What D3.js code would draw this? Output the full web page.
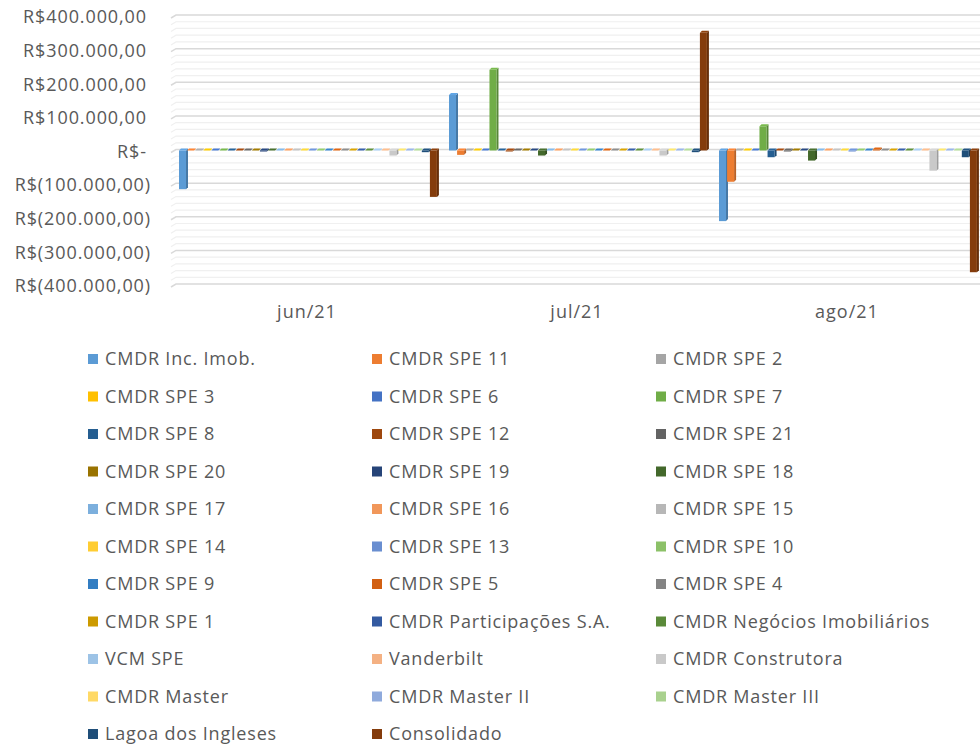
<!DOCTYPE html>
<html>
<head>
<meta charset="utf-8">
<script src="https://cdn.jsdelivr.net/npm/d3@7"></script>
<style>
  body { margin: 0; background: #fff; }
  text { font-family: "Open Sans", "Noto Sans", sans-serif; fill: #595959; }
</style>
</head>
<body>
<div id="chart"></div>
<script>
// months on the x axis
const categories = ['jun/21', 'jul/21', 'ago/21'];

// series names, in legend order
const seriesNames = [
    'CMDR Inc. Imob.', 'CMDR SPE 11', 'CMDR SPE 2',
    'CMDR SPE 3', 'CMDR SPE 6', 'CMDR SPE 7',
    'CMDR SPE 8', 'CMDR SPE 12', 'CMDR SPE 21',
    'CMDR SPE 20', 'CMDR SPE 19', 'CMDR SPE 18',
    'CMDR SPE 17', 'CMDR SPE 16', 'CMDR SPE 15',
    'CMDR SPE 14', 'CMDR SPE 13', 'CMDR SPE 10',
    'CMDR SPE 9', 'CMDR SPE 5', 'CMDR SPE 4',
    'CMDR SPE 1', 'CMDR Participações S.A.', 'CMDR Negócios Imobiliários',
    'VCM SPE', 'Vanderbilt', 'CMDR Construtora',
    'CMDR Master', 'CMDR Master II', 'CMDR Master III',
    'Lagoa dos Ingleses', 'Consolidado'
];

// excel default palette, one per series
const seriesColors = [
    '#5B9BD5', '#ED7D31', '#A5A5A5', '#FFC000', '#4472C4', '#70AD47',
    '#255E91', '#9E480E', '#636363', '#997300', '#264478', '#43682B',
    '#7CAFDD', '#F1975A', '#B7B7B7', '#FFCD33', '#698ED0', '#8CC168',
    '#327DC2', '#D26012', '#848484', '#CC9A00', '#335AA1', '#5A8A39',
    '#9DC3E6', '#F4B183', '#C9C9C9', '#FFD966', '#8FAADC', '#A9D18E',
    '#1F4E79', '#843C0C'
];

// values per series: [jun, jul, ago]
const valuesInc    = [-115000, 165000, -210000];
const valuesSpe11  = [0, -13000, -93000];
const valuesSpe7   = [0, 240000, 72000];
const valuesSpe8   = [0, 0, -20000];
const valuesSpe12  = [0, -3000, 0];
const valuesSpe21  = [0, 0, -3000];
const valuesSpe19  = [-3000, 0, 0];
const valuesSpe18  = [0, -15000, -30000];
const valuesSpe13  = [0, 0, -3000];
const valuesSpe5   = [0, 0, 3000];
const valuesConstr = [-15000, -15000, -60000];
const valuesLagoa  = [-5000, -5000, -20000];
const valuesConsol = [-138000, 350000, -362000];
const zeros = [0, 0, 0];

const seriesValues = {
    'CMDR Inc. Imob.': valuesInc,
    'CMDR SPE 11': valuesSpe11,
    'CMDR SPE 7': valuesSpe7,
    'CMDR SPE 8': valuesSpe8,
    'CMDR SPE 12': valuesSpe12,
    'CMDR SPE 21': valuesSpe21,
    'CMDR SPE 19': valuesSpe19,
    'CMDR SPE 18': valuesSpe18,
    'CMDR SPE 13': valuesSpe13,
    'CMDR SPE 5': valuesSpe5,
    'CMDR Construtora': valuesConstr,
    'Lagoa dos Ingleses': valuesLagoa,
    'Consolidado': valuesConsol
};

const yTicks = [-400000, -300000, -200000, -100000, 0, 100000, 200000, 300000, 400000];

const width = 980, height = 744;

const svg = d3.select('#chart').append('svg')
    .attr('width', width)
    .attr('height', height);

svg.append('rect').attr('width', width).attr('height', height).attr('fill', '#fff');

const y = d3.scaleLinear().domain([-400000, 400000]).range([285, 16]);
const x0 = d3.scaleBand().domain(categories).range([172, 982]);
const x1 = d3.scaleBand().domain(seriesNames).range([7, 266]);

// pt-BR currency
const br = d3.formatLocale({ decimal: ',', thousands: '.', grouping: [3], currency: ['R$', ''] });
const num = br.format(',.2f');
const money = v => v === 0 ? 'R$-' : v < 0 ? 'R$(' + num(-v) + ')' : 'R$' + num(v);

// back wall gridlines (minor every 20k, major every 100k) with a little 3d slant on the left
const grid = svg.append('g');
y.ticks(40).forEach(t => {
    const major = yTicks.includes(t);
    const yy = y(t) - 1;
    grid.append('path')
        .attr('d', `M171,${yy + 3}L176,${yy}L980,${yy}`)
        .attr('fill', 'none')
        .attr('stroke', major ? '#d9d9d9' : '#f0f0f0')
        .attr('stroke-width', major ? 1.5 : 1.2);
});

// y labels
svg.append('g').selectAll('text')
    .data(yTicks)
    .enter().append('text')
    .attr('x', d => d < 0 ? 151 : 147)
    .attr('y', d => y(d) + 1)
    .attr('dy', '0.35em')
    .attr('text-anchor', 'end')
    .style('font-size', '18px')
    .style('letter-spacing', '0.9px')
    .text(money);

// x labels
svg.append('g').selectAll('text')
    .data(categories)
    .enter().append('text')
    .attr('x', d => x0(d) + x0.bandwidth() / 2)
    .attr('y', 312)
    .attr('dy', '0.35em')
    .attr('text-anchor', 'middle')
    .style('font-size', '18px')
    .style('letter-spacing', '1px')
    .text(d => d);

// bars, drawn as simple 3d columns
const bars = [];
categories.forEach((c, ci) => {
    seriesNames.forEach((s, si) => {
        const vals = seriesValues[s] || zeros;
        bars.push({ cat: c, name: s, value: vals[ci], color: seriesColors[si] });
    });
});

const barW = 7, depth = 2;
const barG = svg.append('g');
bars.forEach(b => {
    const x = x0(b.cat) + x1(b.name);
    const y0 = y(0);
    const yv = y(b.value);
    const top = Math.min(y0, yv), bottom = Math.max(y0, yv);
    const c = d3.color(b.color);
    const g = barG.append('g');
    if (bottom - top > 0.5) {
        // side face
        g.append('path')
            .attr('d', `M${x + barW},${top}L${x + barW + depth},${top - depth}L${x + barW + depth},${bottom - depth}L${x + barW},${bottom}Z`)
            .attr('fill', c.darker(0.7));
        // front face
        g.append('rect')
            .attr('x', x).attr('y', top)
            .attr('width', barW).attr('height', bottom - top)
            .attr('fill', b.color);
    }
    // top face
    g.append('path')
        .attr('d', `M${x},${top}L${x + depth},${top - depth}L${x + barW + depth},${top - depth}L${x + barW},${top}Z`)
        .attr('fill', c.brighter(0.2));
});

// legend, 3 columns
const legend = svg.append('g').selectAll('g')
    .data(seriesNames)
    .enter().append('g')
    .attr('transform', (d, i) => `translate(${88 + (i % 3) * 284},${359 + Math.floor(i / 3) * 37.5})`);

legend.append('rect')
    .attr('x', 0).attr('y', -5)
    .attr('width', 10).attr('height', 10)
    .attr('fill', (d, i) => seriesColors[i]);

legend.append('text')
    .attr('x', 17)
    .attr('y', 0)
    .attr('dy', '0.35em')
    .style('font-size', '18px')
    .style('letter-spacing', '0.8px')
    .text(d => d);
</script>
</body>
</html>
